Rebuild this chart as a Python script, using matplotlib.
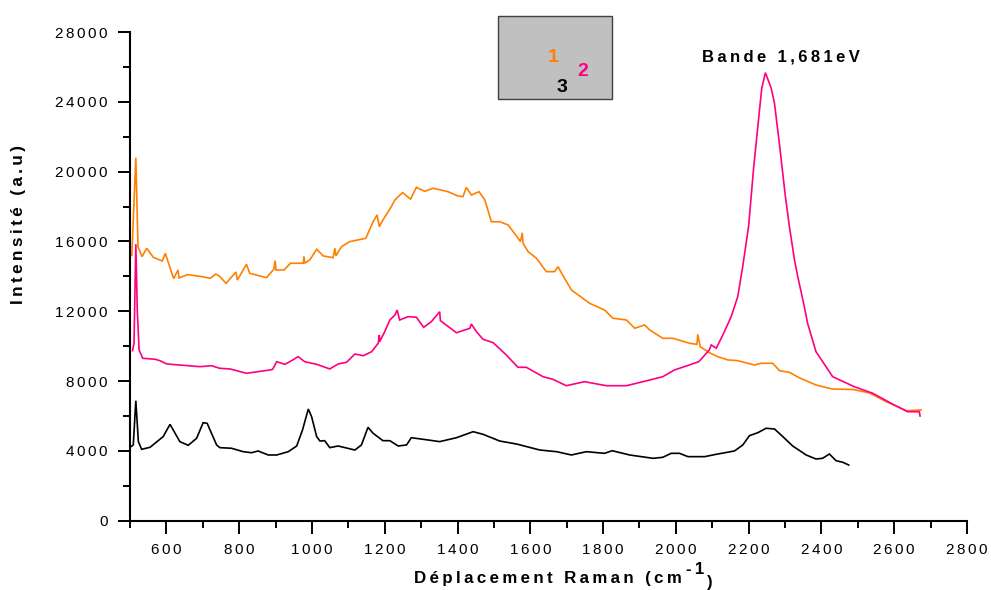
import matplotlib
matplotlib.use("Agg")
import matplotlib.pyplot as plt
from matplotlib.ticker import MultipleLocator, FuncFormatter
from matplotlib.patches import Rectangle

plt.rcParams['font.family'] = ['Liberation Sans', 'DejaVu Sans']

# Raman spectra: shift (cm-1) and intensity (a.u.)
x1 = [505, 516, 522, 533, 546, 564, 589, 597, 612, 620, 632, 635, 658, 697, 720, 736,
      747, 764, 791, 795, 820, 829, 875, 895, 899, 901, 923, 941, 976, 978, 980, 994,
      1013, 1031, 1058, 1063, 1066, 1081, 1104, 1148, 1168, 1179, 1185, 1195, 1218,
      1228, 1249, 1271, 1287, 1310, 1333, 1374, 1401, 1415, 1424, 1438, 1459, 1475,
      1493, 1516, 1539, 1560, 1573, 1578, 1580, 1594, 1617, 1644, 1667, 1676, 1694,
      1713, 1763, 1804, 1827, 1864, 1887, 1914, 1928, 1964, 1992, 2038, 2058, 2060,
      2067, 2092, 2115, 2143, 2170, 2216, 2234, 2266, 2285, 2312, 2340, 2385, 2431,
      2486, 2532, 2578, 2610, 2633, 2674]
y1 = [15200, 20800, 15700, 15130, 15610, 15090, 14880, 15320, 14365, 13870, 14365,
      13910, 14100, 13985, 13890, 14135, 13985, 13600, 14250, 13790, 14690, 14175,
      13925, 14400, 14900, 14365, 14365, 14750, 14750, 15130, 14750, 14940, 15550,
      15170, 15070, 15610, 15170, 15700, 15990, 16180, 17130, 17520, 16850, 17230,
      17990, 18380, 18800, 18420, 19100, 18870, 19050, 18850, 18605, 18565, 19100,
      18660, 18850, 18380, 17130, 17130, 16945, 16370, 15990, 16500, 15895, 15415,
      15035, 14270, 14270, 14555, 13890, 13220, 12455, 12070, 11600, 11500, 11025,
      11215, 10930, 10450, 10450, 10165, 10105, 10680, 9970, 9625, 9400, 9210, 9170,
      8920, 9020, 9020, 8595, 8500, 8180, 7775, 7540, 7520, 7320, 6820, 6530, 6300,
      6345]

x2 = [507, 511, 516, 520, 525, 535, 569, 582, 601, 637, 692, 724, 747, 775, 820, 884,
      892, 903, 926, 944, 962, 980, 1013, 1049, 1072, 1095, 1118, 1141, 1164, 1182,
      1185, 1186, 1200, 1214, 1228, 1234, 1241, 1264, 1287, 1307, 1328, 1351, 1353,
      1397, 1434, 1438, 1452, 1470, 1498, 1534, 1566, 1589, 1635, 1662, 1699, 1749,
      1809, 1864, 1891, 1928, 1964, 1996, 2029, 2063, 2092, 2097, 2111, 2129, 2152,
      2170, 2184, 2200, 2214, 2228, 2236, 2246, 2262, 2271, 2285, 2301, 2312, 2326,
      2335, 2353, 2362, 2385, 2431, 2490, 2541, 2600, 2637, 2669, 2671]
y2 = [9740, 10165, 15840, 12070, 9780, 9305, 9250, 9170, 8980, 8920, 8825, 8880, 8730,
      8695, 8445, 8635, 8675, 9110, 8960, 9170, 9400, 9110, 8960, 8695, 8980, 9075,
      9550, 9455, 9685, 10165, 10640, 10255, 10830, 11500, 11785, 12070, 11500, 11690,
      11655, 11080, 11400, 11975, 11460, 10770, 11025, 11270, 10830, 10395, 10200,
      9495, 8790, 8790, 8250, 8100, 7735, 7965, 7735, 7735, 7870, 8060, 8250, 8635,
      8865, 9110, 9780, 10070, 9880, 10640, 11690, 12835, 14600, 16900, 20285, 23150,
      24775, 25670, 24775, 23915, 21500, 18565, 16845, 14940, 13980, 12260, 11310,
      9685, 8250, 7680, 7300, 6630, 6245, 6245, 6000]

x3 = [500, 509, 516, 523, 532, 555, 591, 610, 637, 660, 683, 701, 712, 738, 747, 779,
      811, 834, 852, 880, 903, 935, 958, 974, 990, 999, 1013, 1022, 1035, 1049, 1072,
      1118, 1136, 1154, 1168, 1195, 1214, 1237, 1260, 1273, 1305, 1351, 1397, 1443,
      1470, 1516, 1562, 1626, 1672, 1713, 1754, 1804, 1825, 1873, 1937, 1964, 1987,
      2010, 2033, 2079, 2111, 2161, 2184, 2202, 2225, 2248, 2271, 2294, 2321, 2358,
      2385, 2403, 2422, 2440, 2459, 2475]
y3 = [4205, 4340, 6875, 4530, 4090, 4205, 4815, 5520, 4530, 4320, 4720, 5615, 5580,
      4340, 4185, 4150, 3955, 3895, 3995, 3765, 3765, 3955, 4280, 5195, 6400, 5960,
      4815, 4565, 4585, 4185, 4280, 4050, 4340, 5350, 5010, 4585, 4585, 4280, 4340,
      4755, 4665, 4530, 4755, 5100, 4950, 4565, 4395, 4050, 3955, 3765, 3955, 3860,
      4010, 3765, 3575, 3630, 3860, 3860, 3670, 3670, 3805, 3995, 4340, 4870, 5040,
      5295, 5255, 4815, 4280, 3765, 3535, 3575, 3820, 3440, 3345, 3190]

series = [("1", x1, y1, "#ff8000"),
          ("2", x2, y2, "#ff0080"),
          ("3", x3, y3, "#000000")]

W, H = 991, 590
fig = plt.figure(figsize=(W / 100, H / 100), dpi=100)
ax = fig.add_axes([130 / W, 1 - 520.7 / H, (967 - 130) / W, (520.7 - 32) / H])

for name, xs, ys, col in series:
    ax.plot(xs, ys, color=col, lw=1.2, solid_joinstyle='miter')

ax.set_xlim(500, 2800)
ax.set_ylim(0, 28000)

HAIR = "\u200a"
THIN = "\u2009"


def tracked(s, sep=HAIR):
    return sep.join(s)


ax.xaxis.set_major_locator(MultipleLocator(200))
ax.xaxis.set_minor_locator(MultipleLocator(100))
ax.yaxis.set_major_locator(MultipleLocator(4000))
ax.yaxis.set_minor_locator(MultipleLocator(2000))
fmt = FuncFormatter(lambda v, p: tracked(f"{v:.0f}", "\u2006"))
ax.xaxis.set_major_formatter(fmt)
ax.yaxis.set_major_formatter(fmt)

for s in ("top", "right"):
    ax.spines[s].set_visible(False)
for s in ("left", "bottom"):
    ax.spines[s].set_linewidth(1.5)
ax.tick_params(which="major", direction="out", length=9, width=1.4,
               labelsize=11, pad=7)
ax.tick_params(which="minor", direction="out", length=5, width=1.4)

fig.text(19 / W, 1 - 225 / H, tracked("Intensité (a.u)", THIN), rotation=90,
         ha="center", va="center", fontsize=12.3, fontweight="bold")

xl = fig.text(548 / W, 1 - 579 / H, tracked("Déplacement Raman (cm", THIN),
              ha="center", va="center", fontsize=12.2, fontweight="bold")
sup = ax.annotate(tracked("-1", THIN), xy=(1, 0.6), xycoords=xl, xytext=(3, 0),
                  textcoords="offset points", ha="left", va="bottom",
                  fontsize=12.2, fontweight="bold")
ax.annotate(")", xy=(1, 0), xycoords=sup, xytext=(2, -9),
            textcoords="offset points", ha="left", va="bottom",
            fontsize=12.2, fontweight="bold")

ax.text(2289, 26570, tracked("Bande 1,681eV", THIN), ha="center", va="center",
        fontsize=12, fontweight="bold")

# key box
fig.patches.append(Rectangle((498 / W, 1 - 99 / H), 114 / W, 83 / H,
                             transform=fig.transFigure, facecolor="#c0c0c0",
                             edgecolor="#404040", lw=1.0))
key_pos = {"1": (553, 57), "2": (583, 72), "3": (562, 88)}
for name, xs, ys, col in series:
    px, py = key_pos[name]
    fig.text(px / W, 1 - py / H, name, color=col, ha="center", va="center",
             fontsize=14, fontweight="bold")

fig.savefig("out.png", dpi=100)
